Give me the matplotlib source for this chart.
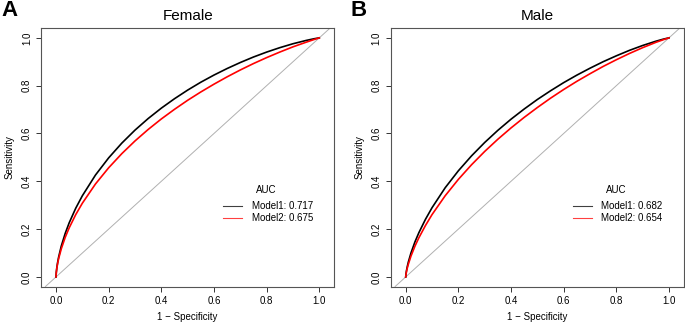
import matplotlib
matplotlib.use("Agg")
import matplotlib.pyplot as plt

plt.rcParams['font.family'] = ['Liberation Sans', 'DejaVu Sans']

# ---- data (smoothed ROC curves) ----
fpr = [0.0, 0.001, 0.003, 0.006, 0.01, 0.02, 0.035, 0.05, 0.075, 0.1, 0.15, 0.2, 0.25,
       0.3, 0.35, 0.4, 0.45, 0.5, 0.55, 0.6, 0.65, 0.7, 0.75, 0.8, 0.85, 0.9, 0.95,
       0.98, 1.0]

female_model1_tpr = [0.0, 0.0180, 0.0378, 0.0598, 0.0832, 0.1291, 0.1823, 0.2263, 0.2876,
                     0.3395, 0.4264, 0.4981, 0.5598, 0.6141, 0.6625, 0.7060, 0.7454,
                     0.7815, 0.8145, 0.8444, 0.8718, 0.8969, 0.9199, 0.9405, 0.9590,
                     0.9754, 0.9892, 0.9962, 1.0]
female_model2_tpr = [0.0, 0.0174, 0.0355, 0.0553, 0.0766, 0.1175, 0.1656, 0.2052, 0.2609,
                     0.3083, 0.3890, 0.4566, 0.5158, 0.5688, 0.6168, 0.6608, 0.7011,
                     0.7389, 0.7737, 0.8063, 0.8370, 0.8657, 0.8925, 0.9174, 0.9406,
                     0.9624, 0.9818, 0.9930, 1.0]
male_model1_tpr = [0.0, 0.0121, 0.0266, 0.0435, 0.0624, 0.1003, 0.1464, 0.1851, 0.2409,
                   0.2896, 0.3732, 0.4440, 0.5064, 0.5624, 0.6132, 0.6598, 0.7024,
                   0.7422, 0.7786, 0.8128, 0.8441, 0.8731, 0.9003, 0.9249, 0.9478,
                   0.9681, 0.9859, 0.9951, 1.0]
male_model2_tpr = [0.0, 0.0101, 0.0224, 0.0371, 0.0533, 0.0872, 0.1285, 0.1638, 0.2151,
                   0.2608, 0.3397, 0.4081, 0.4692, 0.5249, 0.5760, 0.6233, 0.6674,
                   0.7086, 0.7476, 0.7840, 0.8182, 0.8500, 0.8805, 0.9085, 0.9348,
                   0.9590, 0.9812, 0.9929, 1.0]

titles = ["Female", "Male"]
panel_letters = ["A", "B"]
auc_labels = [["Model1: 0.717", "Model2: 0.675"], ["Model1: 0.682", "Model2: 0.654"]]
ticks = [0.0, 0.2, 0.4, 0.6, 0.8, 1.0]
tick_labels = ["0.0", "0.2", "0.4", "0.6", "0.8", "1.0"]

curves = [
    [female_model1_tpr, female_model2_tpr],
    [male_model1_tpr, male_model2_tpr],
]
colors = ["black", "#ff0000"]

W, H = 685, 331
fig = plt.figure(figsize=(W / 100, H / 100), dpi=100)

boxes = [(41, 334.3), (390.7, 684)]
top_px, bot_px = 28.3, 286.5

for i in range(2):
    l, r = boxes[i]
    ax = fig.add_axes([l / W, 1 - bot_px / H, (r - l) / W, (bot_px - top_px) / H])
    ax.set_xlim(-0.057, 1.057)
    ax.set_ylim(-0.04, 1.04)
    ax.axline((0, 0), (1, 1), color="#b0b0b0", lw=0.7, zorder=1)
    for tpr, c in zip(curves[i], colors):
        ax.plot(fpr, tpr, color=c, lw=1.2, solid_joinstyle="round", zorder=3)
    ax.set_xticks(ticks)
    ax.set_xticklabels(tick_labels)
    ax.set_yticks(ticks)
    ax.set_yticklabels(tick_labels, rotation=90, va="center")
    ax.tick_params(direction="out", length=3.5, width=0.7, colors="#333333",
                   labelsize=7, labelcolor="black", pad=3)
    for s in ax.spines.values():
        s.set_color("#555555")
        s.set_linewidth(0.8)
    ax.set_xlabel("1 \u2212 Specificity", fontsize=7, labelpad=5)
    ax.set_ylabel("Sensitivity", fontsize=7, labelpad=5)
    ax.set_title(titles[i], fontsize=11, pad=6)
    # legend (placed as in the reference, in data coordinates)
    ax.text(0.80, 0.362, "AUC", fontsize=7, ha="center", va="center")
    for k, lab in enumerate(auc_labels[i]):
        yy = 0.295 - k * 0.047
        ax.plot([0.634, 0.706], [yy, yy], color=colors[k], lw=0.8, alpha=0.75)
        ax.text(0.743, yy, lab, fontsize=7, ha="left", va="center")
    fig.text((l - 40) / W, 1 - 11 / H, panel_letters[i], fontsize=16, fontweight="bold",
             ha="left", va="center")

fig.savefig("out.png", dpi=100)
